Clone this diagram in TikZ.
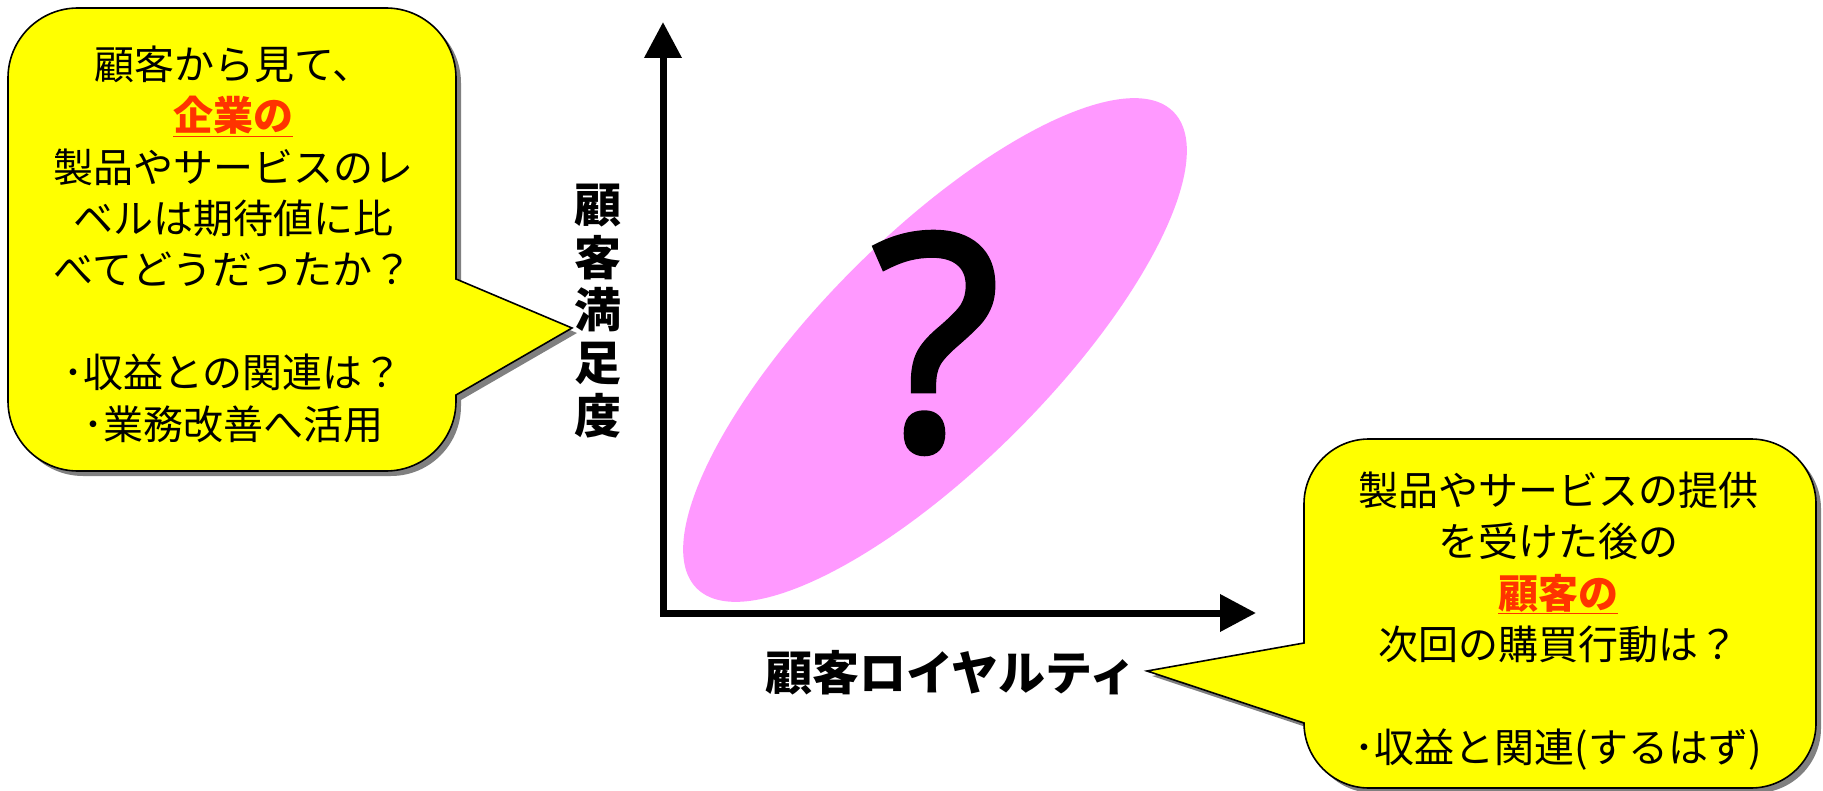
\documentclass[tikz,border=0pt]{standalone}
\usepackage{fontspec}
\setmainfont{Noto Sans CJK JP}
\newfontfamily\qfont{Open Sans}[FakeBold=2.2]
\usetikzlibrary{arrows.meta,shapes.geometric}
\definecolor{calloutfill}{RGB}{255,255,0}
\definecolor{blobpink}{RGB}{255,153,255}
\definecolor{accent}{RGB}{255,51,0}
\newcommand{\accenttext}[1]{\textbf{\color{accent}\underline{#1}}}
\begin{document}
\begin{tikzpicture}[x=1pt,y=-1pt,
  callout/.style={fill=calloutfill, draw=black, line width=1.6pt, line join=miter,
    preaction={fill=black!50, transform canvas={shift={(5pt,-5pt)}}}},
  axis/.style={line width=7pt, line join=miter,
    {Triangle[length=36pt,width=36pt]}-{Triangle[length=36pt,width=36pt]}},
  bodytext/.style={align=center, inner sep=0pt, font=\fontsize{40pt}{51.4pt}\selectfont},
  axislabel/.style={inner sep=0pt, font=\bfseries\fontsize{47pt}{52.6pt}\selectfont}]
\useasboundingbox (0,0) rectangle (1823,791);

% left callout
\path[callout] (78,8) -- (386,8) arc[start angle=90,end angle=0,radius=70pt]
  -- (456,279) -- (572,328) -- (456,395) -- (456,401)
  arc[start angle=0,end angle=-90,radius=70pt] -- (78,471)
  arc[start angle=-90,end angle=-180,radius=70pt] -- (8,78)
  arc[start angle=180,end angle=90,radius=70pt] -- cycle;

% right callout
\path[callout] (1369,439) -- (1751,439) arc[start angle=90,end angle=0,radius=65pt]
  -- (1816,723) arc[start angle=0,end angle=-90,radius=65pt] -- (1369,788)
  arc[start angle=-90,end angle=-180,radius=65pt] -- (1304,723)
  -- (1147,671) -- (1304,643) -- (1304,504)
  arc[start angle=180,end angle=90,radius=65pt] -- cycle;

% ellipse and question mark
\node[ellipse, fill=blobpink, inner sep=0pt, minimum width=674pt, minimum height=230pt,
  rotate=45] (blob) at (935,350) {};
\node[inner sep=0pt, font=\qfont\fontsize{298pt}{298pt}\selectfont] (q) at (936,343) {?};

% axes
\coordinate (O) at (663,613);
\coordinate (ytip) at (663,22);
\coordinate (xtip) at (1256,613);
\draw[axis] (ytip) -- (O) -- (xtip);

% axis labels
\node[axislabel, align=center] (ylab) at (598,311) {顧\\客\\満\\足\\度};
\node[axislabel] (xlab) at (951,673) {顧客ロイヤルティ};

% callout texts
\node[bodytext] (lefttext) at (233,244) {顧客から見て、\\\accenttext{企業の}\\製品やサービスのレ\\ベルは期待値に比\\べてどうだったか？\\\mbox{}\\･収益との関連は？\\･業務改善へ活用};
\node[bodytext] (righttext) at (1558,621) {製品やサービスの提供\\を受けた後の\\\accenttext{顧客の}\\次回の購買行動は？\\\mbox{}\\･収益と関連(するはず)};
\end{tikzpicture}
\end{document}
